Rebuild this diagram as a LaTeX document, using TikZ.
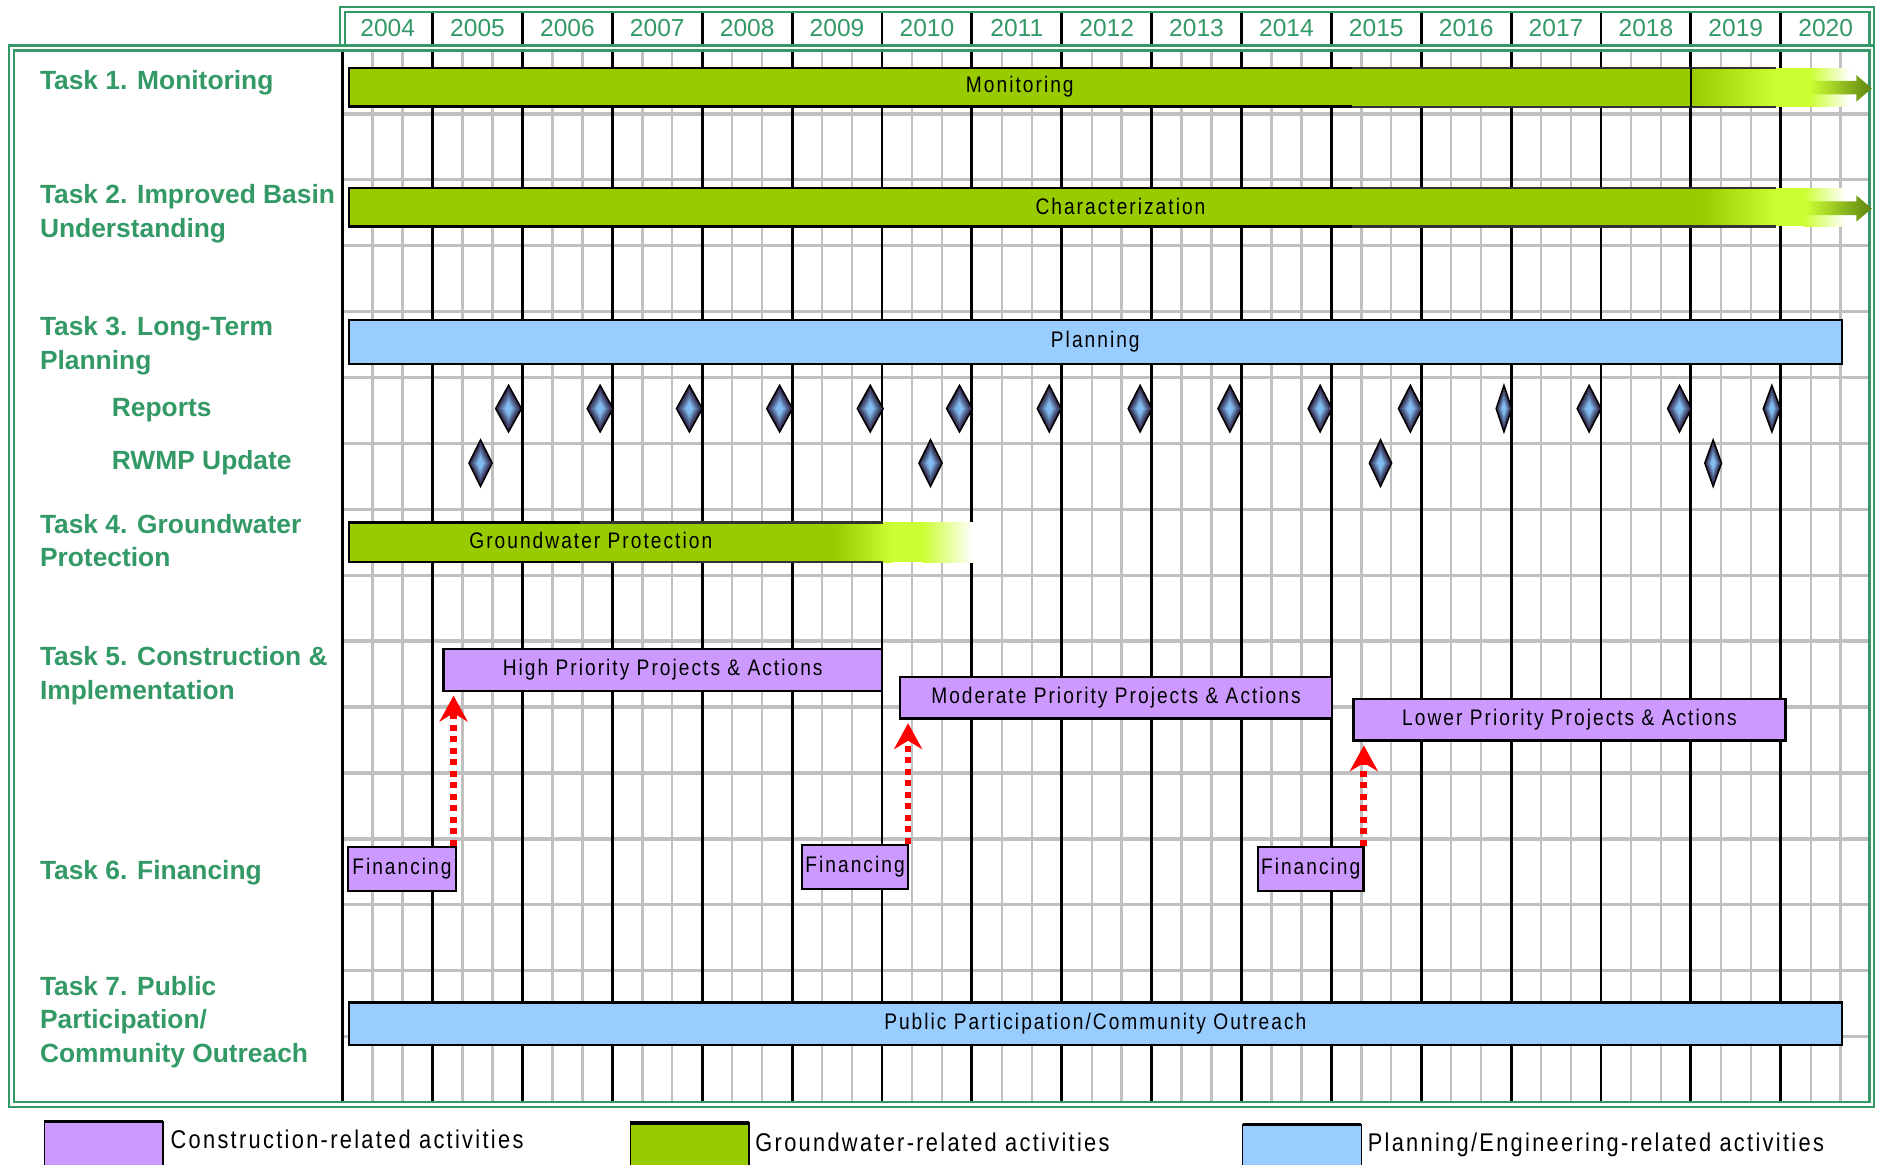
\documentclass[tikz,border=0pt]{standalone}
\usepackage{fontspec}
\setmainfont{Liberation Sans}
\newfontfamily\barfont[FakeStretch=0.85,LetterSpace=9]{Liberation Sans}
\usetikzlibrary{arrows.meta,fit}
\definecolor{tgreen}{HTML}{339966}
\definecolor{gbar}{HTML}{99CC00}
\definecolor{lime}{HTML}{CCFF33}
\definecolor{olive}{HTML}{5E8410}
\definecolor{pblue}{HTML}{99CCFF}
\definecolor{cpurple}{HTML}{CC99FF}
\definecolor{gridgray}{HTML}{C0C0C0}
\definecolor{dmdark}{HTML}{2E2444}
\definecolor{dmlight}{HTML}{88C8FF}
\tikzset{
 tasklabel/.style={font=\fontsize{11}{14}\selectfont\bfseries, text=tgreen, align=left, anchor=west, inner sep=0pt},
 yeartext/.style={font=\fontsize{10.25}{12}\selectfont, text=tgreen, inner sep=0pt},
 bartext/.style={font=\barfont\fontsize{9.4}{11}\selectfont, text=black, inner sep=0pt},
 legtext/.style={font=\barfont\fontsize{10.7}{12}\selectfont, anchor=west, inner sep=0pt},
 boxframe/.style={draw=black, line width=1pt, inner sep=0pt},
 cbox/.style={boxframe, fill=cpurple},
 bluebar/.style={boxframe, fill=pblue},
 greenborder/.style={draw=tgreen, line width=0.95pt, double=white, double distance=1.1pt},
 gridv/.style={gridgray, line width=1pt},
 gridh/.style={gridgray, line width=1.4pt},
 yearline/.style={black, line width=1.2pt},
 redarrow/.style={draw=red, line width=2.8pt, dash pattern=on 2.4pt off 2.4pt,
   -{Stealth[length=10.8pt,width=11.7pt,inset=3.5pt]}, shorten >=1.5pt},
}
\newcommand\msdiamond[3]{%
 \foreach \s/\p in {1/0,0.86/18,0.72/36,0.58/55,0.44/75,0.3/92}{%
   \fill[dmlight!\p!dmdark] (#1-#3*\s,#2) -- (#1,#2-19.5*\s) -- (#1+#3*\s,#2) -- (#1,#2+19.5*\s) -- cycle;}
 \draw[black, line width=0.6pt] (#1-#3,#2) -- (#1,#2-19.5) -- (#1+#3,#2) -- (#1,#2+19.5) -- cycle;}
\begin{document}
\begin{tikzpicture}[x=0.5pt,y=-0.5pt]
\useasboundingbox (0,0) rectangle (1568,972);
\fill[white] (0,0) rectangle (1568,972);
% grid
\foreach \k in {1,...,50}{\pgfmathtruncatemacro\m{mod(\k,3)}\ifnum\m>0 \draw[gridv] (286+25*\k,42) -- (286+25*\k,920);\fi}
\foreach \j in {0,...,14} \draw[gridh] (286,95+55*\j) -- (1561,95+55*\j);
\foreach \k in {0,...,16} \draw[yearline] (286+75*\k,42) -- (286+75*\k,920);
% header
\foreach \k in {1,...,16} \draw[yearline] (286+75*\k,10) -- (286+75*\k,38);
\foreach \y [count=\i from 0] in {2004,...,2020} \node[yeartext] (yr\y) at (286+75*\i+37.5,23) {\y};
\draw[greenborder] (286,8) rectangle (1562,40);
\draw[greenborder] (9.5,40) rectangle (1562,921.5);
% Monitoring
\fill[gbar] (291,57) rectangle (1411,89);
\shade[left color=gbar, right color=lime] (1411,57) rectangle (1482,89);
\fill[lime] (1481.5,57) rectangle (1510,89);
\shade[left color=lime, right color=white] (1510,57) rectangle (1544,89);
\draw[black, line width=1pt] (1128,57) -- (291,57) -- (291,89) -- (1128,89);
\draw[black!80, line width=0.9pt] (1128,57) -- (1482,57) (1128,89) -- (1482,89);
\draw[black, line width=0.6pt] (1411,57) -- (1411,89);
\shade[left color=lime, right color=olive] (1510,67.6) -- (1549,67.6) -- (1549,62.6) -- (1562,73.7) -- (1549,84.9) -- (1549,78.7) -- (1510,78.7) -- cycle;
\node[bartext] (mon) at (851,72) {Monitoring};
% Characterization
\fill[gbar] (291,157) rectangle (1420,189);
\shade[left color=gbar, right color=lime] (1420,157) rectangle (1482,189);
\fill[lime] (1481.5,157) rectangle (1505,189);
\shade[left color=lime, right color=white] (1505,157) rectangle (1540,189);
\draw[black, line width=1pt] (1128,157) -- (291,157) -- (291,189) -- (1128,189);
\draw[black!80, line width=0.9pt] (1128,157) -- (1482,157) (1128,189) -- (1482,189);
\shade[left color=lime, right color=olive] (1507,168) -- (1549,168) -- (1549,163) -- (1562,174) -- (1549,185) -- (1549,179.5) -- (1507,179.5) -- cycle;
\node[bartext] (cha) at (935,172) {Characterization};
% Planning
\node[bluebar, fit={(291,267) (1537,304)}, label={[bartext]center:Planning}] (plan) {};
% milestones
\foreach \x/\w in {424.4/10.8,500.8/10.8,575.3/10.8,650.6/10.8,726.2/10.8,800.7/10.8,875.6/10,951.4/10,1026.3/10,1101.6/10,1176.9/10,1255/6.5,1326.1/10,1401.5/10,1478.6/7.2}{\msdiamond{\x}{341}{\w}}
\foreach \x/\w in {401/9.7,776.5/9.7,1152/9.3,1429.6/7}{\msdiamond{\x}{386.5}{\w}}
% Groundwater protection
\fill[gbar] (291,436) rectangle (696,469);
\shade[left color=gbar, right color=lime] (696,436) rectangle (745,469);
\fill[lime] (744.5,436) rectangle (770,469);
\shade[left color=lime, right color=white] (770,436) rectangle (812,469);
\draw[black, line width=1pt] (484,436) -- (291,436) -- (291,469) -- (484,469);
\draw[black!80, line width=0.9pt] (484,436) -- (737,436) (484,469) -- (737,469);
\node[bartext] (gwp) at (493,451) {Groundwater Protection};
% construction
\node[cbox, fit={(370,541.5) (736,576.5)}, label={[bartext]center:High Priority Projects \& Actions}] (hp) {};
\node[cbox, fit={(751,564.7) (1111.6,599.5)}, label={[bartext]center:Moderate Priority Projects \& Actions}] (mp) {};
\node[cbox, fit={(1129.4,583.3) (1490,618)}, label={[bartext]center:Lower Priority Projects \& Actions}] (lp) {};
% financing
\node[cbox, fit={(290.3,706.6) (380.5,743.6)}, label={[bartext]center:Financing}] (f1) {};
\node[cbox, fit={(669.3,705) (757.8,741.9)}, label={[bartext]center:Financing}] (f2) {};
\node[cbox, fit={(1049.8,706.6) (1137.7,743.6)}, label={[bartext]center:Financing}] (f3) {};
\coordinate (a1) at ([xshift=-1.5pt]f1.north east);
\coordinate (a2) at ([xshift=-0.5pt]f2.north east);
\coordinate (a3) at ([xshift=-0.3pt]f3.north east);
\draw[redarrow] (a1) -- (a1 |- hp.south);
\draw[redarrow] (a2) -- (a2 |- mp.south);
\draw[redarrow] (a3) -- (a3 |- lp.south);
% public participation
\node[bluebar, fit={(291,836.5) (1537,872)}, label={[bartext]center:Public Participation/Community Outreach}] (pub) {};
% task labels
\node[tasklabel] (t1) at (33,69.3) {Task 1. Monitoring};
\node[tasklabel] (t2) at (33,178.3) {Task 2. Improved Basin\\Understanding};
\node[tasklabel] (t3) at (33,288.3) {Task 3. Long-Term\\Planning};
\node[tasklabel] (rep) at (93,342.3) {Reports};
\node[tasklabel] (rwmp) at (93,386.3) {RWMP Update};
\node[tasklabel] (t4) at (33,451) {Task 4. Groundwater\\Protection};
\node[tasklabel] (t5) at (33,563.8) {Task 5. Construction \&\\Implementation};
\node[tasklabel] (t6) at (33,728.3) {Task 6. Financing};
\node[tasklabel] (t7) at (33,852.8) {Task 7. Public\\Participation/\\Community Outreach};
% legend
\fill[cpurple] (37,936) rectangle (136,972);
\draw[black, line width=0.6pt] (37,972) -- (37,936) -- (136,936) -- (136,972);
\draw[black, line width=1.4pt] (37,936) -- (136,936);
\node[legtext] (lg1) at (142,951) {Construction-related activities};
\fill[gbar] (526,937) rectangle (625,972);
\draw[black, line width=0.6pt] (526,972) -- (526,937) -- (625,937) -- (625,972);
\draw[black, line width=1.4pt] (526,937) -- (625,937);
\node[legtext] (lg2) at (630,953.5) {Groundwater-related activities};
\fill[pblue] (1037,938.6) rectangle (1136,972);
\draw[black, line width=0.6pt] (1037,972) -- (1037,938.6) -- (1136,938.6) -- (1136,972);
\draw[black, line width=1.4pt] (1037,938.6) -- (1136,938.6);
\node[legtext] (lg3) at (1141,955) {Planning/Engineering-related activities};
\end{tikzpicture}
\end{document}
